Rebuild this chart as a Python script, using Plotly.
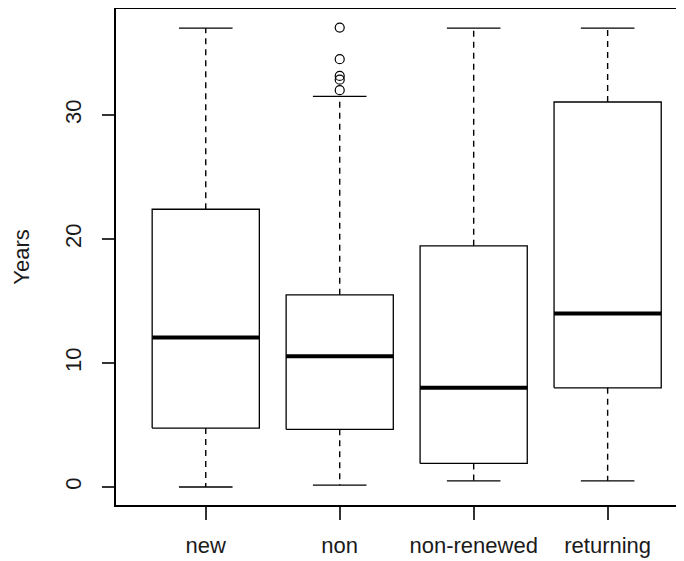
import plotly.graph_objects as go

categories = ["new", "non", "non-renewed", "returning"]
lower_whisker = [0.0, 0.15, 0.5, 0.5]
q1 = [4.75, 4.65, 1.9, 8.0]
median = [12.05, 10.55, 8.0, 14.0]
q3 = [22.4, 15.5, 19.45, 31.05]
upper_whisker = [37.0, 31.5, 37.0, 37.0]
outlier_group = ["non", "non", "non", "non", "non"]
outlier_values = [37.05, 34.5, 33.15, 32.85, 32.0]

y_ticks = [0, 10, 20, 30]

BOX_HALF = 0.4
CAP_HALF = 0.2
LINE = "#000000"
FONT = "Liberation Sans, Arial, sans-serif"

fig = go.Figure()

for i, cat in enumerate(categories):
    x = i + 1
    fig.add_trace(go.Scatter(
        x=[x - BOX_HALF, x + BOX_HALF, x + BOX_HALF, x - BOX_HALF, x - BOX_HALF],
        y=[q1[i], q1[i], q3[i], q3[i], q1[i]],
        mode="lines", line=dict(color=LINE, width=1.3), hoverinfo="skip"))
    fig.add_trace(go.Scatter(
        x=[x - BOX_HALF, x + BOX_HALF], y=[median[i], median[i]],
        mode="lines", line=dict(color=LINE, width=4), hoverinfo="skip"))
    fig.add_trace(go.Scatter(
        x=[x, x], y=[q3[i], upper_whisker[i]],
        mode="lines", line=dict(color=LINE, width=1.4, dash="6px,5px"), hoverinfo="skip"))
    fig.add_trace(go.Scatter(
        x=[x, x], y=[q1[i], lower_whisker[i]],
        mode="lines", line=dict(color=LINE, width=1.4, dash="6px,5px"), hoverinfo="skip"))
    fig.add_trace(go.Scatter(
        x=[x - CAP_HALF, x + CAP_HALF], y=[upper_whisker[i], upper_whisker[i]],
        mode="lines", line=dict(color=LINE, width=1.3), hoverinfo="skip"))
    fig.add_trace(go.Scatter(
        x=[x - CAP_HALF, x + CAP_HALF], y=[lower_whisker[i], lower_whisker[i]],
        mode="lines", line=dict(color=LINE, width=1.3), hoverinfo="skip"))

fig.add_trace(go.Scatter(
    x=[categories.index(g) + 1 for g in outlier_group], y=outlier_values,
    mode="markers",
    marker=dict(symbol="circle-open", size=9, color=LINE, line=dict(width=1.2)),
    hoverinfo="skip"))

# the page body adds an 8px margin, so the figure is 8px smaller
fig.update_layout(
    width=676, height=553,
    margin=dict(l=108, r=0, t=1, b=56),
    paper_bgcolor="white", plot_bgcolor="white",
    showlegend=False,
    font=dict(family=FONT, size=22, color="#1a1a1a"),
    xaxis=dict(
        range=[0.33, 4.57], tickvals=[1, 2, 3, 4], ticktext=categories,
        showgrid=False, zeroline=False, showline=True, mirror=True,
        linecolor=LINE, linewidth=1.5,
        ticks="outside", ticklen=13, tickwidth=1.5, tickcolor="#333333",
        ticklabelstandoff=7,
    ),
    yaxis=dict(
        range=[-1.45, 38.55], tickvals=y_ticks,
        showgrid=False, zeroline=False, showline=True, mirror=False,
        linecolor=LINE, linewidth=1.5,
        ticks="outside", ticklen=12, tickwidth=1.5, tickcolor="#333333",
        tickangle=-90, ticklabelstandoff=12,
        title=dict(text="Years", standoff=26, font=dict(size=22)),
    ),
)

fig.write_html("out.html")
